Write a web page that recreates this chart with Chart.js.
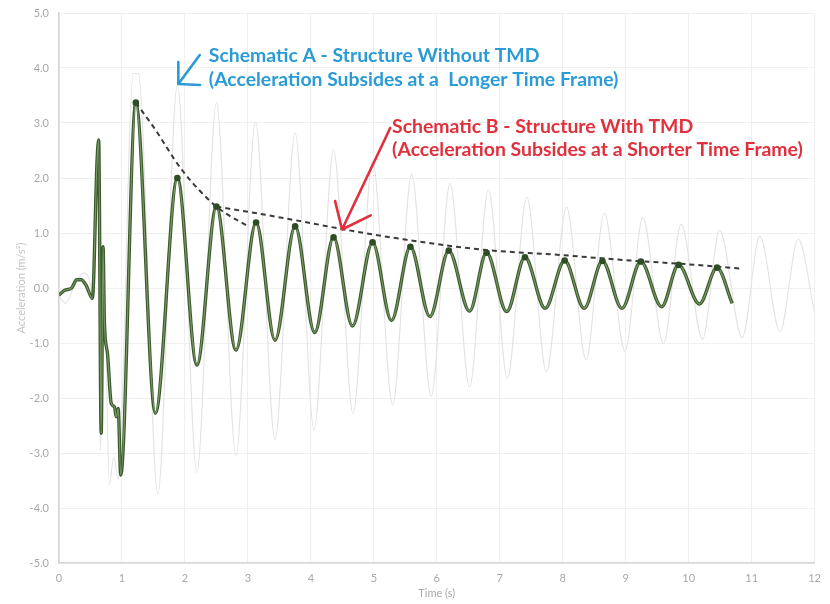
<!DOCTYPE html>
<html><head><meta charset="utf-8">
<script src="https://cdn.jsdelivr.net/npm/chart.js@4/dist/chart.umd.min.js"></script>
<style>html,body{margin:0;padding:0;background:#fff}#wrap{width:830px;height:604px}</style>
</head><body><div id="wrap"><canvas id="c" width="830" height="604"></canvas></div>
<script>
// Schematic A - structure without TMD (light grey)
const timeA = [0.00,0.10,0.25,0.38,0.47,0.54,0.62,0.66,0.71,0.80,0.87,0.94,1.18,1.26,1.57,1.88,2.19,2.50,2.81,3.12,3.43,3.75,4.05,4.36,4.67,4.98,5.30,5.60,5.91,6.21,6.52,6.82,7.12,7.43,7.74,8.06,8.37,8.66,8.99,9.27,9.60,9.88,10.22,10.49,10.85,11.13,11.45,11.74,12.00];
const accA  = [-0.14,-0.28,0.05,0.27,0.20,-0.16,2.60,-2.95,0.60,-3.58,-3.07,-3.49,3.90,3.90,-3.75,3.69,-3.36,3.37,-3.05,3.02,-2.76,2.82,-2.58,2.51,-2.28,2.30,-2.13,2.07,-1.97,1.90,-1.80,1.79,-1.64,1.65,-1.52,1.47,-1.31,1.36,-1.15,1.28,-1.01,1.16,-0.93,1.05,-0.90,0.94,-0.79,0.89,-0.45];
// Schematic B - structure with TMD (dark green)
const timeB = [0.00,0.09,0.20,0.28,0.35,0.43,0.53,0.605,0.63,0.67,0.70,0.72,0.77,0.83,0.88,0.91,0.94,0.98,1.22,1.53,1.88,2.19,2.50,2.81,3.13,3.43,3.75,4.06,4.36,4.66,4.98,5.28,5.58,5.89,6.19,6.52,6.79,7.11,7.40,7.72,8.03,8.34,8.63,8.94,9.24,9.57,9.84,10.17,10.45,10.69];
const accB  = [-0.13,-0.04,0.00,0.15,0.15,0.05,-0.19,2.33,2.69,-2.64,0.75,-0.60,-1.19,-2.10,-2.16,-2.34,-2.19,-3.40,3.37,-2.28,2.00,-1.40,1.48,-1.13,1.19,-0.95,1.12,-0.81,0.92,-0.69,0.83,-0.59,0.75,-0.52,0.68,-0.42,0.64,-0.43,0.56,-0.37,0.50,-0.37,0.49,-0.37,0.48,-0.34,0.42,-0.29,0.37,-0.28];
// marked peaks of B
const peakTime = [1.22,1.88,2.50,3.13,3.75,4.36,4.98,5.58,6.19,6.79,7.40,8.03,8.63,9.24,9.84,10.45];
const peakAcc  = [3.37,2.00,1.48,1.19,1.12,0.92,0.83,0.75,0.68,0.64,0.56,0.50,0.49,0.48,0.42,0.37];
// dashed decay envelopes
const env1Time = [1.22,1.50,1.95,2.50,3.02];
const env1Acc  = [3.37,2.93,2.15,1.48,1.11];
const env2Time = [2.50,3.28,4.00,4.50,5.50,6.79,7.85,9.07,10.00,10.86];
const env2Acc  = [1.48,1.33,1.18,1.07,0.88,0.69,0.61,0.50,0.43,0.35];

const pts = (ts, vs) => ts.map((t, i) => ({x: t, y: vs[i]}));

// annotations in data coordinates
const notes = [
  {color: '#2a9bd6', x: 2.38, y: [4.22, 3.78], width: 410,
   lines: ['Schematic A - Structure Without TMD', '(Acceleration Subsides at a  Longer Time Frame)'],
   arrow: {from: [2.235, 4.236], to: [1.895, 3.71], heads: [[1.895, 4.11], [2.24, 3.69]]}},
  {color: '#e0303c', x: 5.29, y: [2.93, 2.51], width: 411,
   lines: ['Schematic B - Structure With TMD', '(Acceleration Subsides at a Shorter Time Frame)'],
   arrow: {from: [5.26, 2.91], to: [4.495, 1.064], heads: [[4.385, 1.58], [4.95, 1.32]]}}
];

const notePlugin = {
  id: 'notes',
  afterDatasetsDraw(chart) {
    const {ctx, scales: {x, y}} = chart;
    ctx.save();
    for (const n of notes) {
      ctx.strokeStyle = n.color; ctx.lineWidth = 2.6; ctx.lineCap = 'round';
      const P = p => [x.getPixelForValue(p[0]), y.getPixelForValue(p[1])];
      const a = P(n.arrow.from), b = P(n.arrow.to);
      ctx.beginPath(); ctx.moveTo(a[0], a[1]); ctx.lineTo(b[0], b[1]);
      for (const h of n.arrow.heads) { const q = P(h); ctx.moveTo(b[0], b[1]); ctx.lineTo(q[0], q[1]); }
      ctx.stroke();
      ctx.font = 'bold 100px Lato';
      const size = 100 * n.width / ctx.measureText(n.lines[1]).width;
      ctx.font = 'bold ' + size.toFixed(2) + 'px Lato';
      ctx.fillStyle = n.color; ctx.textBaseline = 'middle'; ctx.textAlign = 'left';
      n.lines.forEach((l, i) => ctx.fillText(l, x.getPixelForValue(n.x), y.getPixelForValue(n.y[i])));
    }
    ctx.restore();
  }
};

const axisGrey = '#a8a8a8';
new Chart(document.getElementById('c'), {
  type: 'line',
  data: {
    datasets: [
      {data: pts(peakTime, peakAcc), showLine: false, pointRadius: 3.3, pointBackgroundColor: '#2f4d24', pointBorderWidth: 0, order: 0},
      {data: pts(env1Time, env1Acc), borderColor: '#3a3a3a', borderWidth: 2, borderDash: [5, 4], pointRadius: 0, cubicInterpolationMode: 'monotone', order: 1},
      {data: pts(env2Time, env2Acc), borderColor: '#3a3a3a', borderWidth: 2, borderDash: [5, 4], pointRadius: 0, cubicInterpolationMode: 'monotone', order: 1},
      {data: pts(timeB, accB), borderColor: '#7b9866', borderWidth: 1.1, pointRadius: 0, cubicInterpolationMode: 'monotone', order: 2},
      {data: pts(timeB, accB), borderColor: '#3b5a2d', borderWidth: 3.4, pointRadius: 0, cubicInterpolationMode: 'monotone', order: 3},
      {data: pts(timeA, accA), borderColor: '#e3e3e3', borderWidth: 1.1, pointRadius: 0, cubicInterpolationMode: 'monotone', order: 4}
    ]
  },
  options: {
    responsive: false, animation: false, devicePixelRatio: 1,
    layout: {padding: {top: 13, right: 5, bottom: 0, left: 0}},
    plugins: {legend: {display: false}, tooltip: {enabled: false}},
    scales: {
      x: {type: 'linear', min: 0, max: 12,
        ticks: {stepSize: 1, color: axisGrey, font: {family: 'Lato', size: 11}, padding: 9, maxRotation: 0},
        grid: {color: '#f0f0f0', drawTicks: false},
        border: {color: '#d6d6d6', width: 1.5},
        title: {display: true, text: 'Time (s)', color: axisGrey, font: {family: 'Lato', size: 11}, padding: {top: 0, bottom: 4}},
        afterFit: s => { s.height = 41; }},
      y: {min: -5, max: 5,
        ticks: {stepSize: 1, color: axisGrey, font: {family: 'Lato', size: 11}, padding: 10, callback: v => v.toFixed(1)},
        grid: {color: '#f0f0f0', drawTicks: false},
        border: {color: '#d6d6d6', width: 1.5},
        title: {display: true, text: 'Acceleration (m/s²)', color: '#c4c4c4', font: {family: 'Lato', size: 11}, padding: {top: 15, bottom: 0}},
        afterFit: s => { s.width = 59; s.paddingTop = 0; s.paddingBottom = 0; }}
    }
  },
  plugins: [notePlugin]
});
</script></body></html>
